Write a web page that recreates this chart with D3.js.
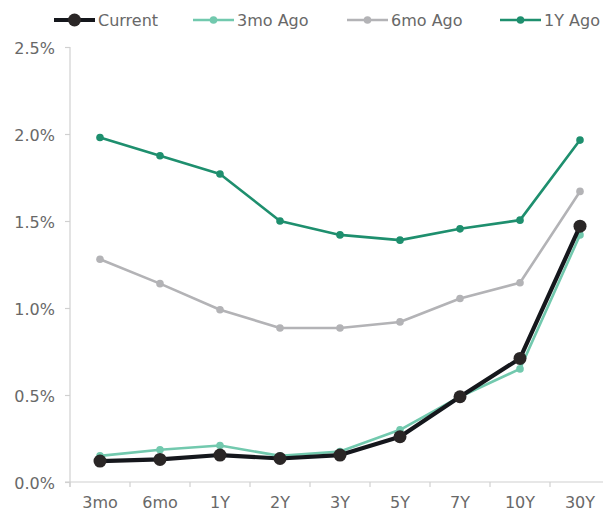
<!DOCTYPE html>
<html>
<head>
<meta charset="utf-8">
<script src="https://cdn.jsdelivr.net/npm/d3@7"></script>
<style>
  body { margin: 0; background: #fff; }
  text { font-family: "Century Gothic", "DejaVu Sans", sans-serif; }
</style>
</head>
<body>
<svg id="chart" width="603" height="513"></svg>
<script>
// Yield curve snapshots (% yield by maturity)
const maturities = ["3mo", "6mo", "1Y", "2Y", "3Y", "5Y", "7Y", "10Y", "30Y"];
const current   = [0.12, 0.13, 0.155, 0.135, 0.155, 0.26, 0.49, 0.71, 1.47];
const ago3mo    = [0.15, 0.185, 0.21, 0.15, 0.175, 0.30, 0.49, 0.65, 1.42];
const ago6mo    = [1.28, 1.14, 0.99, 0.885, 0.885, 0.92, 1.055, 1.145, 1.67];
const ago1y     = [1.98, 1.875, 1.77, 1.50, 1.42, 1.39, 1.455, 1.505, 1.965];
const yTicks    = [0, 0.5, 1.0, 1.5, 2.0, 2.5];

const series = [
  { name: "Current",  values: current, color: "#15171c", width: 4.2, r: 6.5 },
  { name: "3mo Ago",  values: ago3mo,  color: "#72c9ae", width: 2.6, r: 3.8 },
  { name: "6mo Ago",  values: ago6mo,  color: "#b3b3b6", width: 2.6, r: 3.8 },
  { name: "1Y Ago",   values: ago1y,   color: "#1e8f6e", width: 2.6, r: 3.8 }
];
// Drawing order: older curves underneath, current on top
const drawOrder = [series[3], series[2], series[1], series[0]];

const svg = d3.select("#chart");
const plotLeft = 70, plotRight = 610, plotTop = 47, plotBottom = 482;

const x = d3.scaleBand().domain(maturities).range([plotLeft, plotRight]).padding(0);
const y = d3.scaleLinear().domain([0, 2.5]).range([plotBottom, plotTop]);

const axisColor = "#d0d0d0";
const textColor = "#686868";
const fontSize = 16;

// Y axis
const yAxis = svg.append("g").attr("transform", `translate(${plotLeft},0)`)
  .call(d3.axisLeft(y).tickValues(yTicks).tickSize(5).tickPadding(10)
    .tickFormat(d => d3.format(".1f")(d) + "%"));
yAxis.select(".domain").attr("stroke", axisColor).attr("stroke-width", 1.2)
  .attr("d", `M0,${plotTop}V${plotBottom + 5}`);
yAxis.selectAll(".tick line").attr("stroke", axisColor).attr("stroke-width", 1.2);
yAxis.selectAll(".tick text").attr("fill", textColor).attr("font-size", fontSize)
  .attr("dy", "0.4em");

// X axis with tick marks between categories
const xAxis = svg.append("g").attr("transform", `translate(0,${plotBottom})`)
  .call(d3.axisBottom(x).tickSize(0).tickPadding(15));
xAxis.select(".domain").attr("stroke", axisColor).attr("stroke-width", 1.2)
  .attr("d", `M${plotLeft - 5},0H${plotRight}`);
xAxis.selectAll(".tick text").attr("fill", textColor).attr("font-size", fontSize);
xAxis.selectAll(".sep").data(maturities).enter().append("line")
  .attr("class", "sep")
  .attr("x1", d => x(d)).attr("x2", d => x(d))
  .attr("y1", 0).attr("y2", 5)
  .attr("stroke", axisColor).attr("stroke-width", 1.2);

const cx = (d, i) => x(maturities[i]) + x.bandwidth() / 2;
const line = d3.line().x(cx).y(d => y(d));

const g = svg.append("g");
drawOrder.forEach(s => {
  g.append("path")
    .datum(s.values)
    .attr("fill", "none")
    .attr("stroke", s.color)
    .attr("stroke-width", s.width)
    .attr("stroke-linejoin", "round")
    .attr("d", line);
  g.selectAll(null).data(s.values).enter().append("circle")
    .attr("cx", cx).attr("cy", d => y(d))
    .attr("r", s.r)
    .attr("fill", s.name === "Current" ? "#2a2626" : s.color);
});

// Legend
const legendX = [54, 193, 347, 500];
const legend = svg.append("g");
series.forEach((s, i) => {
  const lg = legend.append("g").attr("transform", `translate(${legendX[i]},20)`);
  lg.append("line").attr("x1", 0).attr("x2", 41).attr("y1", 0).attr("y2", 0)
    .attr("stroke", s.color).attr("stroke-width", s.width);
  lg.append("circle").attr("cx", 20.5).attr("cy", 0).attr("r", s.r)
    .attr("fill", s.name === "Current" ? "#2a2626" : s.color);
  lg.append("text").attr("x", 44).attr("y", 0).attr("dy", "0.36em")
    .attr("fill", textColor).attr("font-size", fontSize).text(s.name);
});
</script>
</body>
</html>
